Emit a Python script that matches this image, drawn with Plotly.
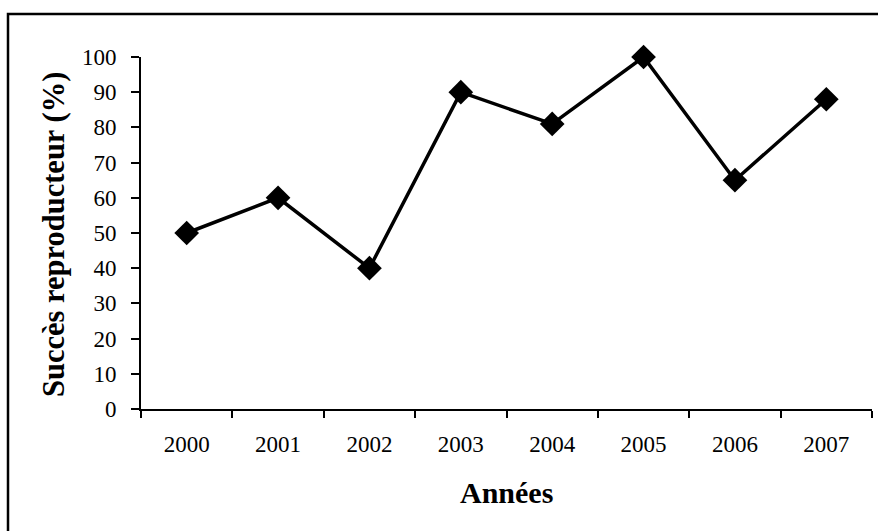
import plotly.graph_objects as go

years = ["2000", "2001", "2002", "2003", "2004", "2005", "2006", "2007"]
success = [50, 60, 40, 90, 81, 100, 65, 88]
y_ticks = [0, 10, 20, 30, 40, 50, 60, 70, 80, 90, 100]

FONT = "Liberation Serif, Times New Roman, serif"

fig = go.Figure()
fig.add_trace(go.Scatter(
    x=years, y=success, mode="lines+markers",
    line=dict(color="black", width=3.5),
    marker=dict(symbol="diamond", size=19, color="black"),
    cliponaxis=False,
    showlegend=False,
))

W, H = 878, 531
L, R, T, B = 141, 6, 57, 122
pw, ph = W - L - R, H - T - B

def px_x(p):
    return (p - L) / pw

def px_y(p):
    return (H - B - p) / ph

fig.update_layout(
    width=W, height=H,
    margin=dict(l=L, r=R, t=T, b=B),
    paper_bgcolor="white", plot_bgcolor="white",
    font=dict(family=FONT, size=23, color="black"),
    xaxis=dict(
        type="category", range=[-0.5, 7.5],
        showline=True, linecolor="black", linewidth=2,
        ticks="outside", ticklen=7, tickwidth=2, tickcolor="black",
        tickson="boundaries", showgrid=False, zeroline=False,
        tickfont=dict(size=23), ticklabelstandoff=13,
    ),
    yaxis=dict(
        range=[0, 100], tickvals=y_ticks,
        showline=True, linecolor="black", linewidth=2,
        ticks="outside", ticklen=8, tickwidth=2, tickcolor="black",
        showgrid=False, zeroline=False,
        tickfont=dict(size=23), ticklabelstandoff=10,
    ),
    shapes=[dict(
        type="rect", xref="paper", yref="paper",
        x0=px_x(8), x1=px_x(890), y0=px_y(545), y1=px_y(14),
        line=dict(color="black", width=2.5), fillcolor="rgba(0,0,0,0)",
    )],
    annotations=[
        dict(text="<b>Années</b>", xref="paper", yref="paper",
             x=0.5, y=px_y(492), xanchor="center", yanchor="middle",
             showarrow=False, font=dict(size=30, family=FONT)),
        dict(text="<b>Succès reproducteur (%)</b>", xref="paper", yref="paper",
             x=px_x(54), y=px_y(235), xanchor="center", yanchor="middle",
             textangle=-90, showarrow=False, font=dict(size=30.5, family=FONT)),
    ],
)

fig.write_html("out.html", config={"displayModeBar": False},
               post_script="document.body.style.margin='0px';")
